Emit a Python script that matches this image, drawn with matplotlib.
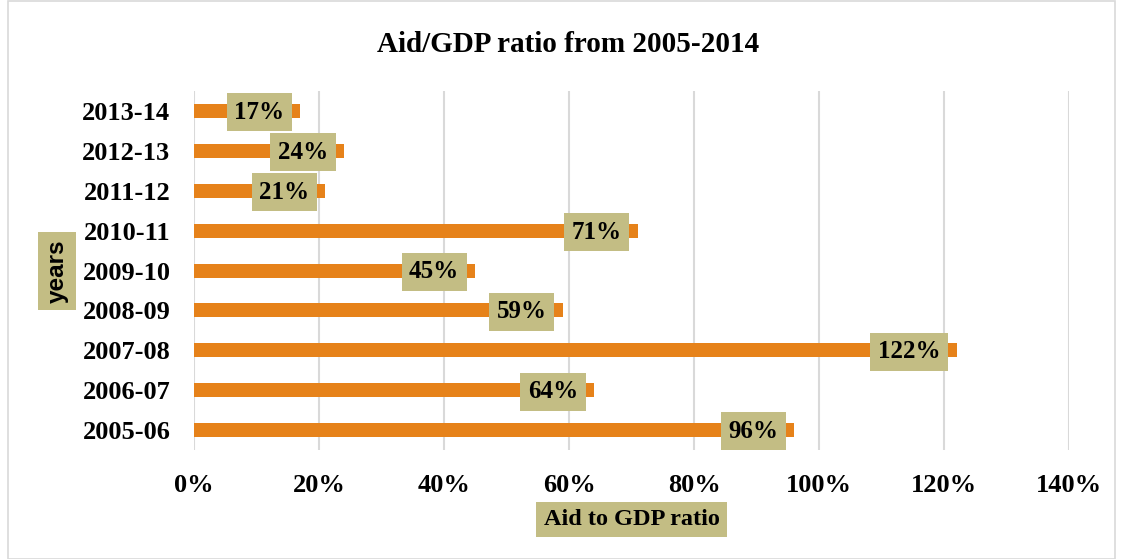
import matplotlib.pyplot as plt
from matplotlib.patches import Rectangle
from matplotlib.ticker import FuncFormatter

years = ["2005-06", "2006-07", "2007-08", "2008-09", "2009-10",
         "2010-11", "2011-12", "2012-13", "2013-14"]
aid_gdp = [96, 64, 122, 59, 45, 71, 21, 24, 17]
xticks = [0, 20, 40, 60, 80, 100, 120, 140]

BAR = "#E6821A"
BOX = "#C3BD84"
SERIF = ["Liberation Serif", "DejaVu Serif"]

fig = plt.figure(figsize=(11.22, 5.59), dpi=100)
ax = fig.add_axes([0.1729, 0.195, 0.7799, 0.642])

pos = range(len(years))
ax.barh(pos, aid_gdp, height=0.35, color=BAR, zorder=3)

# value labels sit just inside the bar end
for y, v in zip(pos, aid_gdp):
    ax.annotate(f"{v}%", xy=(v, y), xytext=(-11.5, -1), textcoords="offset points",
                ha="right", va="center", fontsize=18, fontweight="bold",
                family=SERIF, zorder=5,
                bbox=dict(boxstyle="square,pad=0.3", fc=BOX, ec="none"))

ax.set_xlim(0, 140)
ax.set_ylim(-0.5, len(years) - 0.5)
ax.set_xticks(xticks)
ax.xaxis.set_major_formatter(FuncFormatter(lambda v, p: f"{v:.0f}%"))
ax.set_yticks(list(pos))
ax.set_yticklabels(years)
for lab in ax.get_xticklabels() + ax.get_yticklabels():
    lab.set_family(SERIF)
    lab.set_fontweight("bold")
    lab.set_fontsize(19)
ax.tick_params(axis="both", length=0)
ax.tick_params(axis="y", pad=17)
ax.tick_params(axis="x", pad=17)
ax.grid(axis="x", color="#D9D9D9", linewidth=1.5, zorder=0)
for s in ax.spines.values():
    s.set_visible(False)

fig.text(0.5062, 0.921, "Aid/GDP ratio from 2005-2014", ha="center", va="center",
         fontsize=21, fontweight="bold", family=SERIF)
fig.text(0.5628, 0.071, "Aid to GDP ratio", ha="center", va="center",
         fontsize=17.5, fontweight="bold", family=SERIF,
         bbox=dict(boxstyle="square,pad=0.3", fc=BOX, ec="none"))
fig.text(0.0508, 0.515, "years", ha="center", va="center", rotation=90,
         fontsize=17.5, fontweight="bold", family=["Liberation Sans", "DejaVu Sans"],
         bbox=dict(boxstyle="square,pad=0.3", fc=BOX, ec="none"))

fig.patches.append(Rectangle((0.007, 0.0), 0.987, 0.998, transform=fig.transFigure,
                             fill=False, ec="#D9D9D9", lw=1.2))

fig.savefig("out.png", dpi=100)
